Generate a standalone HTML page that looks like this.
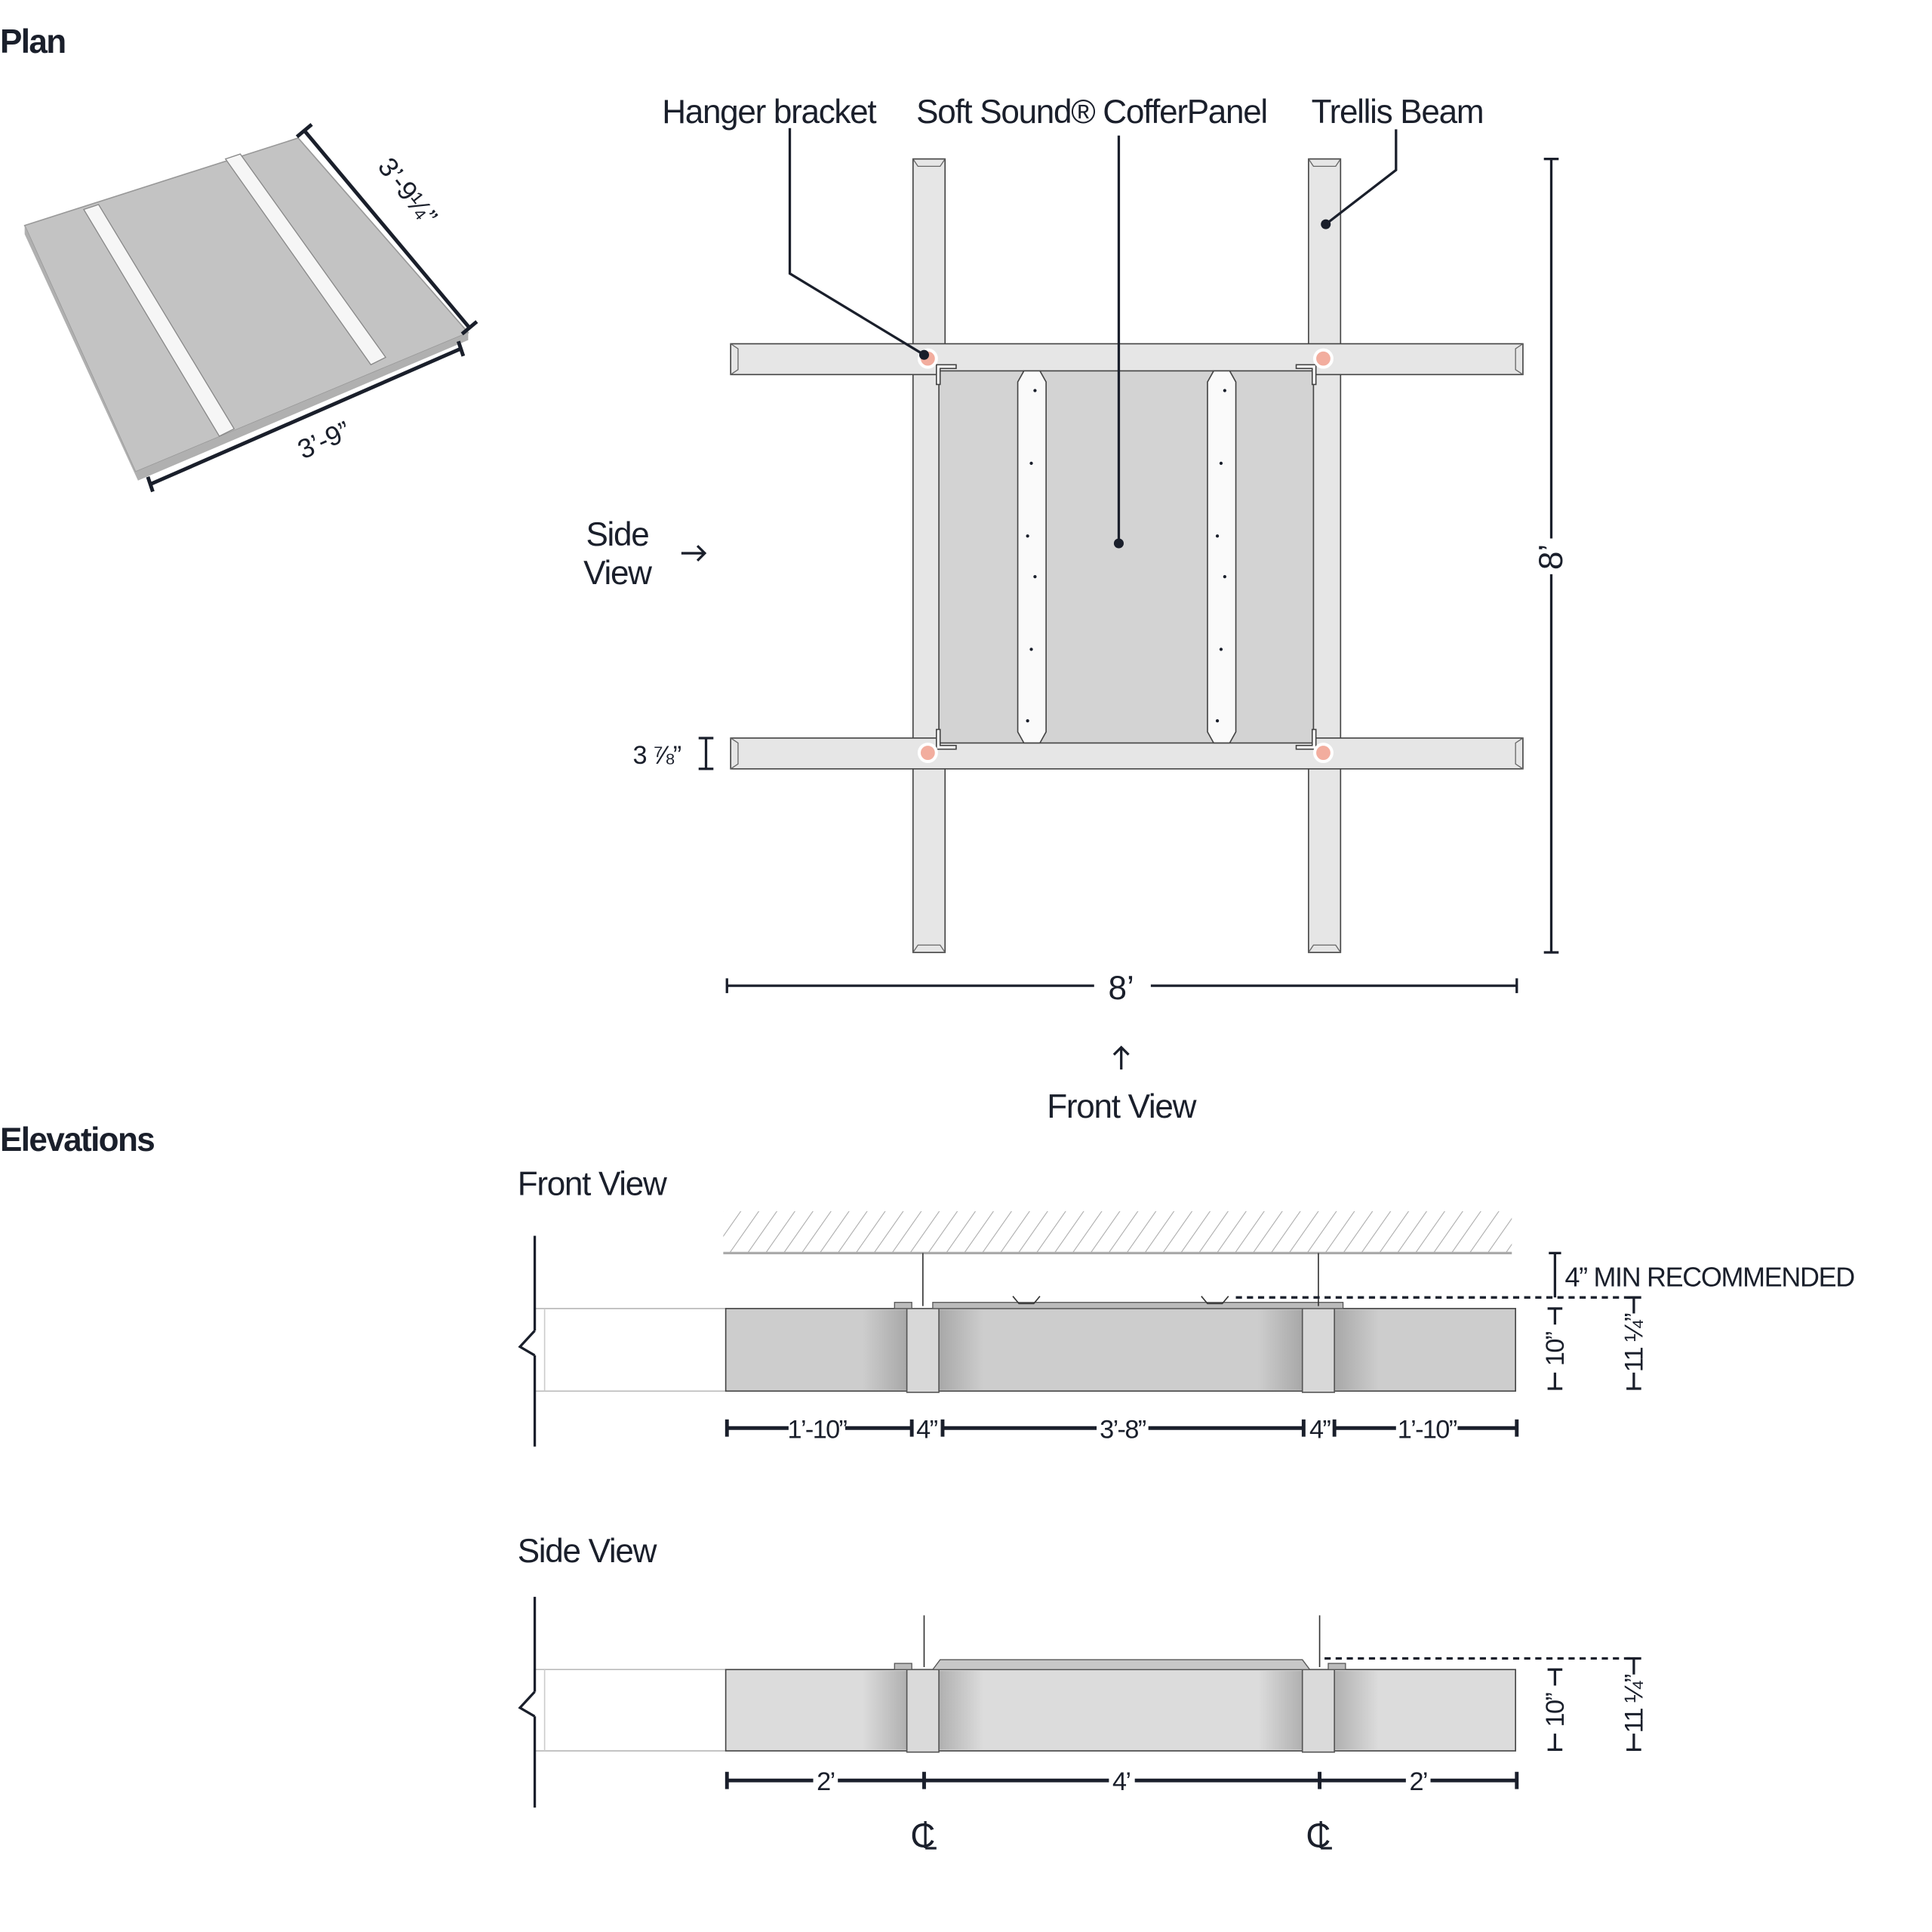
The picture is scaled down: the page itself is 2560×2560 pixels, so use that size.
<!DOCTYPE html>
<html><head><meta charset="utf-8"><style>
html,body{margin:0;padding:0;background:#fff}
svg{display:block}
text{font-family:"Liberation Sans",sans-serif;fill:#1a1f2b}
</style></head><body>
<svg width="2560" height="2560" viewBox="0 0 1568 1568" xmlns="http://www.w3.org/2000/svg">
<defs>
<pattern id="hatch" width="12" height="12" patternUnits="userSpaceOnUse" patternTransform="rotate(35)">
<line x1="0" y1="0" x2="0" y2="12" stroke="#aaa" stroke-width="1.3"/>
</pattern>
<linearGradient id="shL" x1="0" x2="1"><stop offset="0" stop-color="#cdcdcd"/><stop offset="1" stop-color="#a8a8a8"/></linearGradient>
<linearGradient id="shR" x1="0" x2="1"><stop offset="0" stop-color="#a8a8a8"/><stop offset="1" stop-color="#cdcdcd"/></linearGradient>
<linearGradient id="shLs" x1="0" x2="1"><stop offset="0" stop-color="#dcdcdc"/><stop offset="1" stop-color="#b0b0b0"/></linearGradient>
<linearGradient id="shRs" x1="0" x2="1"><stop offset="0" stop-color="#b0b0b0"/><stop offset="1" stop-color="#dcdcdc"/></linearGradient>
</defs>
<g font-weight="bold" font-size="27"><text x="0" y="43" style="letter-spacing:-1px">Plan</text><text x="0" y="934" style="letter-spacing:-1px">Elevations</text></g>

<!-- iso panel -->
<polygon points="20,183 242,112 380,270 110,383" fill="#c3c3c3" stroke="#999" stroke-width="1"/>
<polygon points="110,383 380,270 380,276 112,390 20,190 20,183" fill="#b0b0b0"/>
<polygon points="68,170 80,166 190,348 178,354" fill="#f6f6f6" stroke="#888" stroke-width="0.8"/>
<polygon points="183,129 195,125 313,290 301,296" fill="#f6f6f6" stroke="#888" stroke-width="0.8"/>
<g stroke="#1a1f2b" stroke-width="3" fill="none">
<line x1="247" y1="106" x2="381" y2="266"/><line x1="241" y1="111" x2="253" y2="101"/><line x1="375" y1="271" x2="387" y2="261"/>
<line x1="122" y1="393" x2="374" y2="283"/><line x1="120" y1="387" x2="124" y2="399"/><line x1="372" y1="277" x2="376" y2="289"/>
</g>
<text x="325" y="160" font-size="22" transform="rotate(52 325 160)" text-anchor="middle">3’-9¼”</text>
<text x="266" y="364" font-size="22" transform="rotate(-24 266 364)" text-anchor="middle">3’-9”</text>

<!-- plan beams -->
<g stroke="#444" stroke-width="1">
<rect x="741" y="129" width="26" height="644" fill="#e6e6e6"/>
<rect x="1062" y="129" width="26" height="644" fill="#e6e6e6"/>
<rect x="593" y="279" width="643" height="25" fill="#e6e6e6"/>
<rect x="593" y="599" width="643" height="25" fill="#e6e6e6"/>
<rect x="762" y="301" width="304" height="302" fill="#d3d3d3"/>
<polygon points="831,301 844,301 849,310 849,594 844,603 831,603 826,594 826,310" fill="#fafafa"/>
<polygon points="985,301 998,301 1003,310 1003,594 998,603 985,603 980,594 980,310" fill="#fafafa"/>
</g>
<g stroke="#666" stroke-width="0.8" fill="none">
<polyline points="741,129 745,135 763,135 767,129"/><polyline points="741,773 745,767 763,767 767,773"/>
<polyline points="1062,129 1066,135 1084,135 1088,129"/><polyline points="1062,773 1066,767 1084,767 1088,773"/>
<polyline points="593,279 599,283 599,300 593,304"/><polyline points="1236,279 1230,283 1230,300 1236,304"/>
<polyline points="593,599 599,603 599,620 593,624"/><polyline points="1236,599 1230,603 1230,620 1236,624"/>
</g>
<g stroke="#444" stroke-width="1" fill="#fff">
<path d="M760,296 h16 v3 h-13 v13 h-3 z"/><path d="M1068,296 h-16 v3 h13 v13 h3 z"/>
<path d="M760,608 h16 v-3 h-13 v-13 h-3 z"/><path d="M1068,608 h-16 v-3 h13 v-13 h3 z"/>
</g>
<g fill="#1a1f2b">
<circle cx="840" cy="317" r="1.3"/><circle cx="837" cy="376" r="1.3"/><circle cx="834" cy="435" r="1.3"/><circle cx="840" cy="468" r="1.3"/><circle cx="837" cy="527" r="1.3"/><circle cx="834" cy="585" r="1.3"/>
<circle cx="994" cy="317" r="1.3"/><circle cx="991" cy="376" r="1.3"/><circle cx="988" cy="435" r="1.3"/><circle cx="994" cy="468" r="1.3"/><circle cx="991" cy="527" r="1.3"/><circle cx="988" cy="585" r="1.3"/>
</g>
<g fill="#f2ad9e" stroke="#fff" stroke-width="2.5">
<circle cx="753" cy="291" r="7"/><circle cx="1074" cy="291" r="7"/><circle cx="753" cy="611" r="7"/><circle cx="1074" cy="611" r="7"/>
</g>
<g font-size="27" text-anchor="middle" style="letter-spacing:-0.8px">
<text x="624" y="100">Hanger bracket</text><text x="886" y="100">Soft Sound® CofferPanel</text><text x="1134" y="100">Trellis Beam</text>
<text x="501" y="443">Side</text><text x="501" y="474">View</text>
<text x="910" y="907">Front View</text>
<text x="533" y="620" font-size="21">3 ⅞”</text>
</g>
<g stroke="#1a1f2b" stroke-width="2" fill="none">
<polyline points="641,104 641,222 750,288"/>
<line x1="908" y1="110" x2="908" y2="441"/>
<polyline points="1133,105 1133,138 1076,182"/>
<line x1="1259" y1="129" x2="1259" y2="437"/><line x1="1259" y1="466" x2="1259" y2="773"/>
<line x1="1253" y1="129" x2="1265" y2="129"/><line x1="1253" y1="773" x2="1265" y2="773"/>
<line x1="590" y1="800" x2="888" y2="800"/><line x1="934" y1="800" x2="1231" y2="800"/>
<line x1="590" y1="794" x2="590" y2="806"/><line x1="1231" y1="794" x2="1231" y2="806"/>
<line x1="573" y1="599" x2="573" y2="624"/><line x1="567" y1="599" x2="579" y2="599"/><line x1="567" y1="624" x2="579" y2="624"/>
<line x1="553" y1="449" x2="572" y2="449"/><polyline points="566,443 572,449 566,455"/>
<line x1="910" y1="850" x2="910" y2="868"/><polyline points="904,856 910,850 916,856"/>
</g>
<g fill="#1a1f2b"><circle cx="750" cy="288" r="4"/><circle cx="908" cy="441" r="4"/><circle cx="1076" cy="182" r="4"/></g>
<text x="910" y="811" font-size="27" text-anchor="middle">8’</text>
<text x="1259" y="452" font-size="27" text-anchor="middle" transform="rotate(-90 1259 452)" dy="9">8’</text>

<!-- front elevation -->
<text x="420" y="970" font-size="27" style="letter-spacing:-0.8px">Front View</text>
<rect x="587" y="983" width="640" height="34" fill="url(#hatch)"/>
<line x1="587" y1="1017" x2="1227" y2="1017" stroke="#aaa" stroke-width="2"/>
<line x1="434" y1="1062" x2="589" y2="1062" stroke="#bbb"/><line x1="434" y1="1129" x2="589" y2="1129" stroke="#bbb"/>
<line x1="442" y1="1062" x2="442" y2="1129" stroke="#ccc"/>
<rect x="589" y="1062" width="641" height="67" fill="#cdcdcd" stroke="#444"/>
<rect x="700" y="1063" width="36" height="65" fill="url(#shL)"/><rect x="762" y="1063" width="36" height="65" fill="url(#shR)"/>
<rect x="1021" y="1063" width="36" height="65" fill="url(#shL)"/><rect x="1083" y="1063" width="36" height="65" fill="url(#shR)"/>
<rect x="736" y="1062" width="26" height="68" fill="#d8d8d8" stroke="#555"/><rect x="1057" y="1062" width="26" height="68" fill="#d8d8d8" stroke="#555"/>
<rect x="757" y="1057" width="333" height="5" fill="#bbb" stroke="#555" stroke-width="0.8"/>
<rect x="726" y="1057" width="14" height="5" fill="#bbb" stroke="#555" stroke-width="0.8"/>
<g stroke="#333" stroke-width="1"><line x1="749" y1="1017" x2="749" y2="1060"/><line x1="1070" y1="1017" x2="1070" y2="1060"/>
<polyline points="822,1052 827,1058 839,1058 844,1052" fill="none"/><polyline points="975,1052 980,1058 992,1058 997,1052" fill="none"/></g>

<g stroke="#1a1f2b" stroke-width="2" fill="none">
<line x1="434" y1="1003" x2="434" y2="1080"/><polyline points="434,1080 422,1093 434,1100"/><line x1="434" y1="1100" x2="434" y2="1174"/>
<line x1="1003" y1="1053" x2="1325" y2="1053" stroke-dasharray="5,4"/>
<line x1="1262" y1="1017" x2="1262" y2="1053"/><line x1="1257" y1="1017" x2="1267" y2="1017"/>
<line x1="1262" y1="1062" x2="1262" y2="1075"/><line x1="1262" y1="1114" x2="1262" y2="1127"/><line x1="1256" y1="1062" x2="1268" y2="1062"/><line x1="1256" y1="1127" x2="1268" y2="1127"/>
<line x1="1326" y1="1053" x2="1326" y2="1066"/><line x1="1326" y1="1114" x2="1326" y2="1127"/><line x1="1320" y1="1053" x2="1332" y2="1053"/><line x1="1320" y1="1127" x2="1332" y2="1127"/>
</g>
<g stroke="#1a1f2b" stroke-width="3" fill="none">
<line x1="590" y1="1159" x2="640" y2="1159"/><line x1="686" y1="1159" x2="740" y2="1159"/><line x1="765" y1="1159" x2="890" y2="1159"/><line x1="932" y1="1159" x2="1058" y2="1159"/><line x1="1083" y1="1159" x2="1133" y2="1159"/><line x1="1183" y1="1159" x2="1231" y2="1159"/>
<line x1="590" y1="1152" x2="590" y2="1166"/><line x1="740" y1="1152" x2="740" y2="1166"/><line x1="765" y1="1152" x2="765" y2="1166"/><line x1="1058" y1="1152" x2="1058" y2="1166"/><line x1="1083" y1="1152" x2="1083" y2="1166"/><line x1="1231" y1="1152" x2="1231" y2="1166"/>
</g>
<g font-size="21" text-anchor="middle" style="letter-spacing:-1px">
<text x="663" y="1167">1’-10”</text><text x="752" y="1167">4”</text><text x="911" y="1167">3’-8”</text><text x="1071" y="1167">4”</text><text x="1158" y="1167">1’-10”</text>
<text x="1270" y="1044" text-anchor="start" font-size="22" style="letter-spacing:-0.8px">4” MIN RECOMMENDED</text>
<text x="1262" y="1095" transform="rotate(-90 1262 1095)" dy="7">10”</text>
<text x="1326" y="1090" transform="rotate(-90 1326 1090)" dy="7">11 ¼”</text>
</g>

<!-- side elevation -->
<text x="420" y="1268" font-size="27" style="letter-spacing:-0.8px">Side View</text>
<line x1="434" y1="1355" x2="589" y2="1355" stroke="#bbb"/><line x1="434" y1="1421" x2="589" y2="1421" stroke="#bbb"/>
<line x1="442" y1="1355" x2="442" y2="1421" stroke="#ccc"/>
<rect x="589" y="1355" width="641" height="66" fill="#dcdcdc" stroke="#444"/>
<rect x="700" y="1356" width="36" height="64" fill="url(#shLs)"/><rect x="762" y="1356" width="36" height="64" fill="url(#shRs)"/>
<rect x="1021" y="1356" width="36" height="64" fill="url(#shLs)"/><rect x="1083" y="1356" width="36" height="64" fill="url(#shRs)"/>
<rect x="736" y="1355" width="26" height="67" fill="#dadada" stroke="#555"/><rect x="1057" y="1355" width="26" height="67" fill="#dadada" stroke="#555"/>
<path d="M757,1355 L763,1347 L1057,1347 L1063,1355 Z" fill="#c8c8c8" stroke="#555" stroke-width="0.8"/>
<rect x="726" y="1350" width="14" height="5" fill="#bbb" stroke="#555" stroke-width="0.8"/><rect x="1078" y="1350" width="14" height="5" fill="#bbb" stroke="#555" stroke-width="0.8"/>
<g stroke="#333" stroke-width="1"><line x1="750" y1="1311" x2="750" y2="1353"/><line x1="1071" y1="1311" x2="1071" y2="1353"/></g>
<g stroke="#1a1f2b" stroke-width="2" fill="none">
<line x1="434" y1="1296" x2="434" y2="1373"/><polyline points="434,1373 422,1386 434,1393"/><line x1="434" y1="1393" x2="434" y2="1467"/>
<line x1="1075" y1="1346" x2="1325" y2="1346" stroke-dasharray="5,4"/>
<line x1="1262" y1="1355" x2="1262" y2="1368"/><line x1="1262" y1="1407" x2="1262" y2="1420"/><line x1="1256" y1="1355" x2="1268" y2="1355"/><line x1="1256" y1="1420" x2="1268" y2="1420"/>
<line x1="1326" y1="1346" x2="1326" y2="1359"/><line x1="1326" y1="1407" x2="1326" y2="1420"/><line x1="1320" y1="1346" x2="1332" y2="1346"/><line x1="1320" y1="1420" x2="1332" y2="1420"/>
</g>
<g stroke="#1a1f2b" stroke-width="3" fill="none">
<line x1="590" y1="1445" x2="660" y2="1445"/><line x1="680" y1="1445" x2="900" y2="1445"/><line x1="921" y1="1445" x2="1141" y2="1445"/><line x1="1161" y1="1445" x2="1231" y2="1445"/>
<line x1="590" y1="1438" x2="590" y2="1452"/><line x1="750" y1="1438" x2="750" y2="1452"/><line x1="1071" y1="1438" x2="1071" y2="1452"/><line x1="1231" y1="1438" x2="1231" y2="1452"/>
</g>
<g font-size="21" text-anchor="middle" style="letter-spacing:-1px">
<text x="670" y="1453">2’</text><text x="910" y="1453">4’</text><text x="1151" y="1453">2’</text>
<text x="1262" y="1388" transform="rotate(-90 1262 1388)" dy="7">10”</text>
<text x="1326" y="1383" transform="rotate(-90 1326 1383)" dy="7">11 ¼”</text>
</g>
<g font-size="28" text-anchor="middle"><text x="749" y="1499">C</text><text x="1070" y="1499">C</text></g>
<g stroke="#1a1f2b" stroke-width="2"><line x1="751" y1="1478" x2="751" y2="1500"/><line x1="751" y1="1500" x2="760" y2="1500"/><line x1="1072" y1="1478" x2="1072" y2="1500"/><line x1="1072" y1="1500" x2="1081" y2="1500"/></g>
</svg>
</body></html>
